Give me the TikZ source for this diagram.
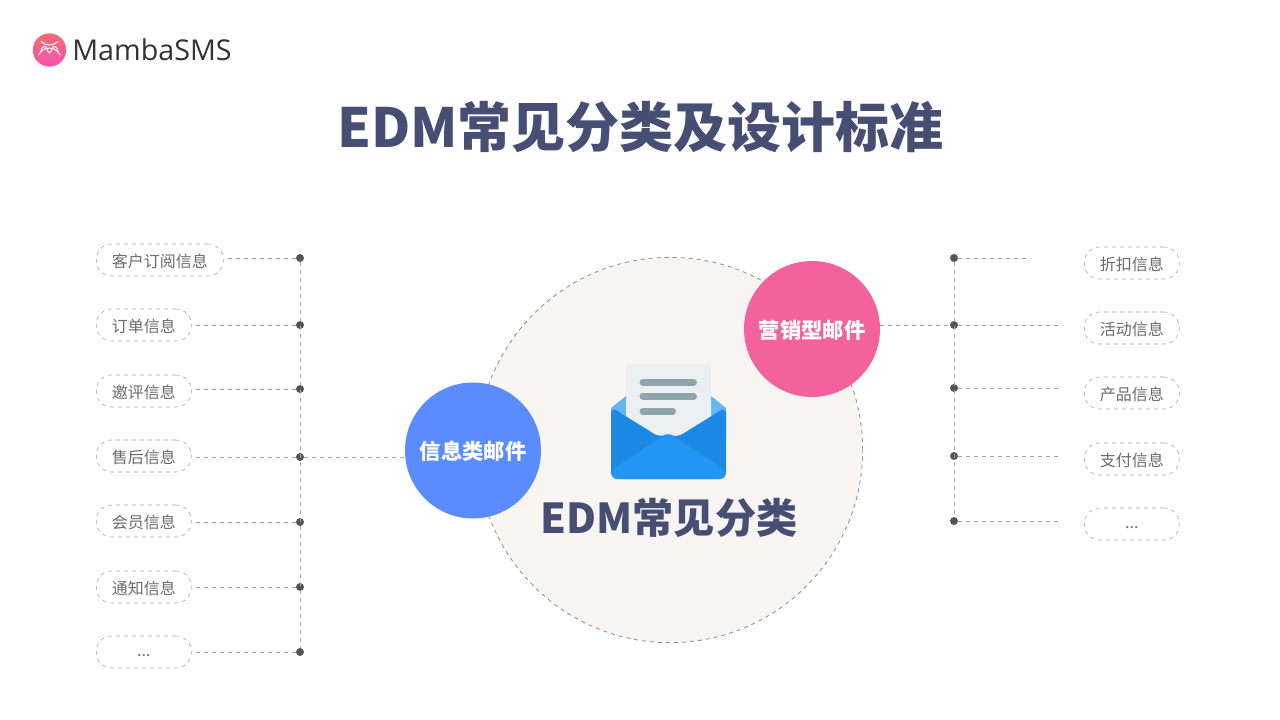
\documentclass[tikz,border=0pt]{standalone}
\usepackage{fontspec}
\setmainfont{Noto Sans CJK SC}
\newfontfamily\logofont{Open Sans}
\usetikzlibrary{positioning,shadings}
\definecolor{titleblue}{HTML}{464F73}
\definecolor{labelgray}{HTML}{6B6B6B}
\definecolor{dashgray}{HTML}{A0A0A0}
\definecolor{rimgray}{HTML}{8C8C8C}
\definecolor{dotgray}{HTML}{555555}
\definecolor{discfill}{HTML}{F7F4F1}
\definecolor{infoblue}{HTML}{5B8CFF}
\definecolor{salepink}{HTML}{F4629D}
\definecolor{envback}{HTML}{64B5F6}
\definecolor{envside}{HTML}{1E88E5}
\definecolor{envfront}{HTML}{2196F3}
\definecolor{paperfill}{HTML}{ECEFF1}
\definecolor{paperline}{HTML}{90A4AE}
\tikzset{font=\small}
\tikzset{pill/.style={draw=dashgray,dashed,rounded corners=11.5pt,minimum height=24pt,inner sep=0pt,text height=12pt,text depth=1.3pt,text=labelgray,font=\fontsize{12}{14}\selectfont,fill=white}}
\tikzset{dot/.style={circle,fill=dotgray,inner sep=0pt,minimum size=6pt}}
\tikzset{lead/.style={draw=dashgray,dashed,line width=.6pt}}
\tikzset{ball/.style={circle,inner sep=0pt,minimum size=102pt,text height=15pt,text depth=1.3pt,text=white,font=\fontsize{16}{18}\selectfont\bfseries}}
\tikzset{wave/.style={white,line width=.75pt,line cap=round}}
\begin{document}
\begin{tikzpicture}[x=0.75pt,y=-0.75pt]
  \useasboundingbox (0,0) rectangle (1280,720);
  \node[circle,draw=rimgray,dashed,line width=.6pt,fill=discfill,inner sep=0pt,minimum size=289pt] (disc) at (670,450) {};
  % logo
  \node[circle,inner sep=0pt,minimum size=25pt,top color=salepink!75!orange,bottom color=salepink!85!magenta] (logo) at (49.5,50) {};
  \draw[wave] (41,41.5) arc[start angle=135,end angle=45,radius=12];
  \draw[wave] (38.5,55) arc[start angle=205,end angle=335,radius=12];
  \draw[wave] (41,52) .. controls (42,45) and (46,45) .. (47,49) .. controls (48,54) and (51,54) .. (52,49) .. controls (53,45) and (57,45) .. (58,52);
  \node[anchor=west,inner sep=0pt,text=black!80,font=\logofont\fontsize{21.5}{24}\selectfont] (brand) at (72,50) {MambaSMS};
  \node[text=titleblue,font=\fontsize{40.5}{46}\selectfont\bfseries] (title) at (640.5,127) {EDM常见分类及设计标准};
  % left column
  \foreach \n/\y/\w/\t in {a/260/127/客户订阅信息,b/325/95/订单信息,c/391/95/邀评信息,d/456/95/售后信息,e/521/95/会员信息,f/587/95/通知信息,g/652/95/{\raisebox{2pt}{...}}}
  \node[pill,minimum width=\w*0.75pt,anchor=west] (l\n) at (96,\y) {\t};
  \foreach \n/\y in {a/258,b/325,c/389,d/457,e/522,f/587,g/652}
  \node[dot] (ld\n) at (300,\y) {};
  \draw[lead] (lda)--(ldg);
  \draw[lead,shorten <=3pt] (la.east |- lda)--(lda);
  \draw[lead,shorten <=3pt] (lb.east |- ldb)--(ldb);
  \draw[lead,shorten <=3pt] (lc.east |- ldc)--(ldc);
  \draw[lead,shorten <=3pt] (ld.east |- ldd)--(ldd);
  \draw[lead,shorten <=3pt] (le.east |- lde)--(lde);
  \draw[lead,shorten <=3pt] (lf.east |- ldf)--(ldf);
  \draw[lead,shorten <=3pt] (lg.east |- ldg)--(ldg);
  % right column
  \foreach \n/\y/\t in {a/263/折扣信息,b/328/活动信息,c/393/产品信息,d/459/支付信息,e/524/{\raisebox{2pt}{...}}}
  \node[pill,minimum width=71.25pt,anchor=west] (r\n) at (1084,\y) {\t};
  \foreach \n/\y/\e in {a/258/1031,b/325/1063,c/388/1060,d/456/1060,e/521/1060}{
    \node[dot] (rd\n) at (954,\y) {};
    \coordinate (re\n) at (\e,\y);
    \draw[lead] (rd\n)--(re\n);
  }
  \draw[lead] (rda)--(rde);
  % categories
  \node[ball,fill=infoblue] (info) at (473,450.5) {信息类邮件};
  \node[ball,fill=salepink] (sale) at (812,329) {营销型邮件};
  \draw[lead] (ldd)--(info.west |- ldd);
  \draw[lead] (sale.east |- rdb)--(rdb);
  % envelope
  \fill[envback] (611,408)--(626,396)--(711,396)--(726,408)--(726,440)--(611,440)--cycle;
  \fill[paperfill,rounded corners=2pt] (626,364) rectangle (711,445);
  \foreach \y/\e in {382/693.5,396/693.5,411/672.5}
  \draw[paperline,line width=5.25pt,line cap=round] (643,\y)--(\e,\y);
  \fill[envside,rounded corners=5pt] (611,407)--(660,437.5)--(668,434)--(677,437.5)--(726,407)--(726,479)--(611,479)--cycle;
  \fill[envfront,rounded corners=4pt] (668,432.5)--(724,469)--(726,479)--(611,479)--(613,469)--cycle;
  \node[text=titleblue,font=\fontsize{30.9}{36}\selectfont\bfseries] (center) at (669,518) {EDM常见分类};
\end{tikzpicture}
\end{document}
